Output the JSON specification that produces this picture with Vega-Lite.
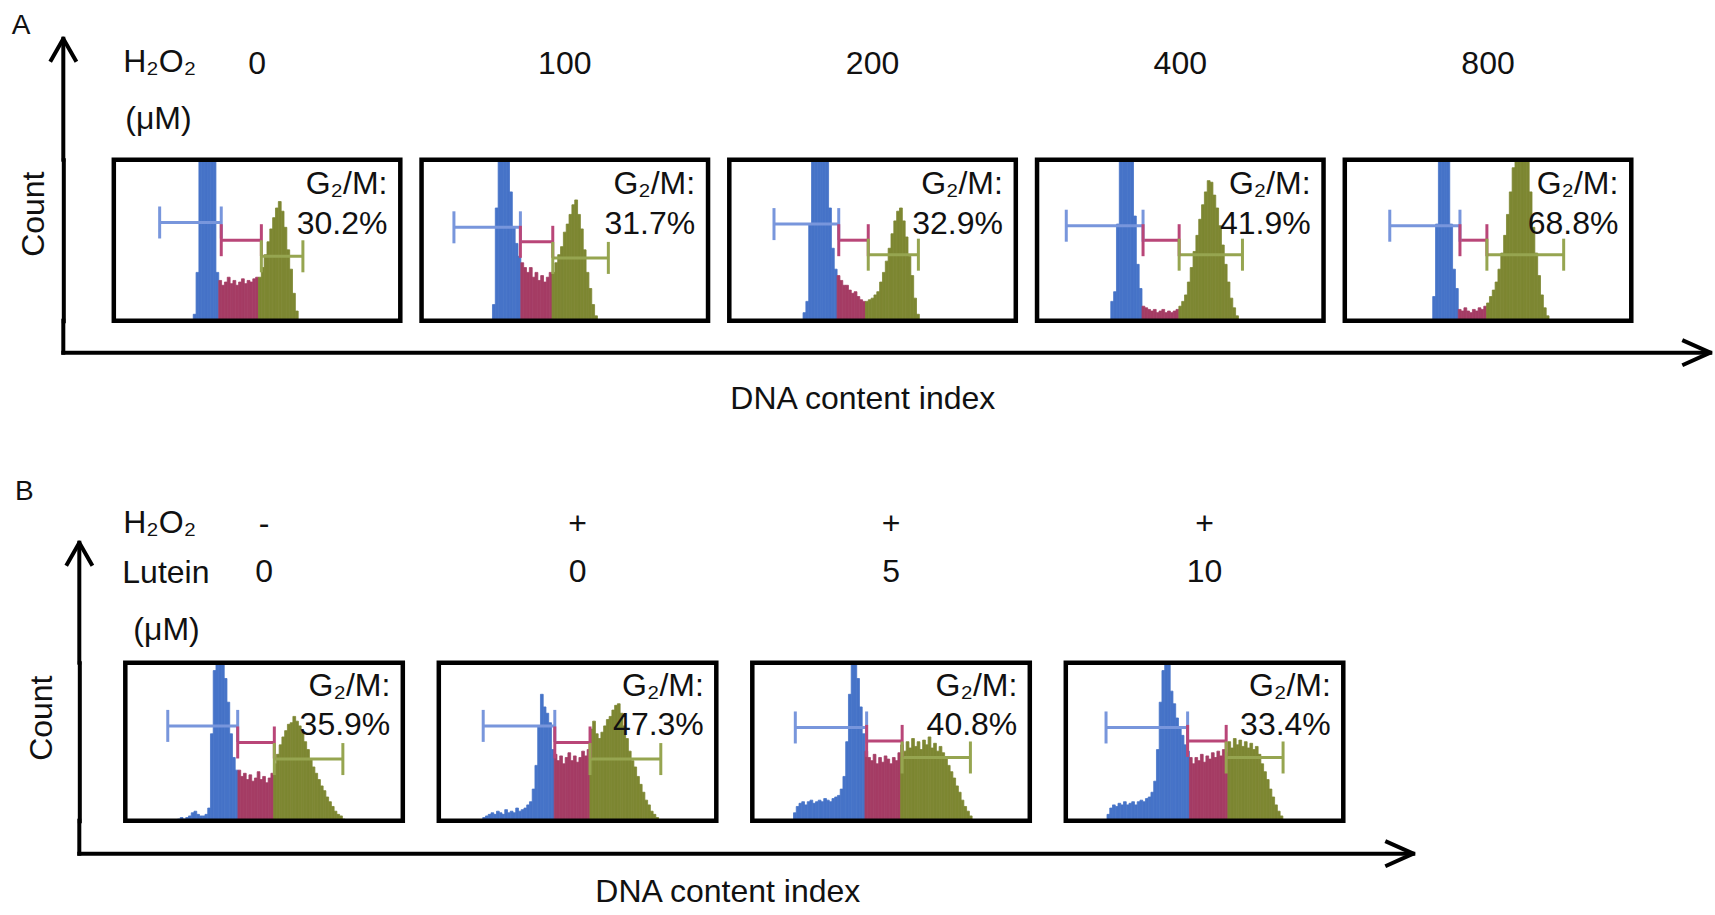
{
  "$schema": "https://vega.github.io/schema/vega-lite/v6.json",
  "padding": {"left": 11.3, "top": 11.7, "right": 0, "bottom": 6},
  "bounds": "flush",
  "spacing": 0,
  "config": {
    "font": "Liberation Sans",
    "view": {"stroke": null},
    "text": {"color": "#111", "fontSize": 32}
  },
  "datasets": {
    "panelA": [
      {"cond":"0","ch":28,"n":4,"phase":"G1"},{"cond":"0","ch":29,"n":30,"phase":"G1"},{"cond":"0","ch":30,"n":115,"phase":"G1"},{"cond":"0","ch":31,"n":115,"phase":"G1"},{"cond":"0","ch":32,"n":115,"phase":"G1"},{"cond":"0","ch":33,"n":115,"phase":"G1"},{"cond":"0","ch":34,"n":115,"phase":"G1"},{"cond":"0","ch":35,"n":115,"phase":"G1"},{"cond":"0","ch":36,"n":30,"phase":"G1"},
      {"cond":"0","ch":37,"n":25,"phase":"S"},{"cond":"0","ch":38,"n":22,"phase":"S"},{"cond":"0","ch":39,"n":24,"phase":"S"},{"cond":"0","ch":40,"n":27,"phase":"S"},{"cond":"0","ch":41,"n":23,"phase":"S"},{"cond":"0","ch":42,"n":25,"phase":"S"},{"cond":"0","ch":43,"n":22,"phase":"S"},{"cond":"0","ch":44,"n":24,"phase":"S"},{"cond":"0","ch":45,"n":26,"phase":"S"},{"cond":"0","ch":46,"n":23,"phase":"S"},{"cond":"0","ch":47,"n":25,"phase":"S"},{"cond":"0","ch":48,"n":24,"phase":"S"},{"cond":"0","ch":49,"n":26,"phase":"S"},{"cond":"0","ch":50,"n":27,"phase":"S"},
      {"cond":"0","ch":51,"n":27,"phase":"G2/M"},{"cond":"0","ch":52,"n":33,"phase":"G2/M"},{"cond":"0","ch":53,"n":41,"phase":"G2/M"},{"cond":"0","ch":54,"n":49,"phase":"G2/M"},{"cond":"0","ch":55,"n":57,"phase":"G2/M"},{"cond":"0","ch":56,"n":64,"phase":"G2/M"},{"cond":"0","ch":57,"n":70,"phase":"G2/M"},{"cond":"0","ch":58,"n":74,"phase":"G2/M"},{"cond":"0","ch":59,"n":68,"phase":"G2/M"},{"cond":"0","ch":60,"n":58,"phase":"G2/M"},{"cond":"0","ch":61,"n":44,"phase":"G2/M"},{"cond":"0","ch":62,"n":32,"phase":"G2/M"},{"cond":"0","ch":63,"n":17,"phase":"G2/M"},{"cond":"0","ch":64,"n":6,"phase":"G2/M"},
      {"cond":"100","ch":25,"n":10,"phase":"G1"},{"cond":"100","ch":26,"n":70,"phase":"G1"},{"cond":"100","ch":27,"n":115,"phase":"G1"},{"cond":"100","ch":28,"n":115,"phase":"G1"},{"cond":"100","ch":29,"n":115,"phase":"G1"},{"cond":"100","ch":30,"n":115,"phase":"G1"},{"cond":"100","ch":31,"n":80,"phase":"G1"},{"cond":"100","ch":32,"n":58,"phase":"G1"},{"cond":"100","ch":33,"n":48,"phase":"G1"},{"cond":"100","ch":34,"n":40,"phase":"G1"},
      {"cond":"100","ch":35,"n":36,"phase":"S"},{"cond":"100","ch":36,"n":33,"phase":"S"},{"cond":"100","ch":37,"n":30,"phase":"S"},{"cond":"100","ch":38,"n":33,"phase":"S"},{"cond":"100","ch":39,"n":27,"phase":"S"},{"cond":"100","ch":40,"n":30,"phase":"S"},{"cond":"100","ch":41,"n":25,"phase":"S"},{"cond":"100","ch":42,"n":28,"phase":"S"},{"cond":"100","ch":43,"n":24,"phase":"S"},{"cond":"100","ch":44,"n":27,"phase":"S"},{"cond":"100","ch":45,"n":30,"phase":"S"},
      {"cond":"100","ch":46,"n":30,"phase":"G2/M"},{"cond":"100","ch":47,"n":36,"phase":"G2/M"},{"cond":"100","ch":48,"n":41,"phase":"G2/M"},{"cond":"100","ch":49,"n":46,"phase":"G2/M"},{"cond":"100","ch":50,"n":55,"phase":"G2/M"},{"cond":"100","ch":51,"n":60,"phase":"G2/M"},{"cond":"100","ch":52,"n":66,"phase":"G2/M"},{"cond":"100","ch":53,"n":72,"phase":"G2/M"},{"cond":"100","ch":54,"n":75,"phase":"G2/M"},{"cond":"100","ch":55,"n":66,"phase":"G2/M"},{"cond":"100","ch":56,"n":57,"phase":"G2/M"},{"cond":"100","ch":57,"n":44,"phase":"G2/M"},{"cond":"100","ch":58,"n":30,"phase":"G2/M"},{"cond":"100","ch":59,"n":20,"phase":"G2/M"},{"cond":"100","ch":60,"n":10,"phase":"G2/M"},{"cond":"100","ch":61,"n":3,"phase":"G2/M"},
      {"cond":"200","ch":26,"n":5,"phase":"G1"},{"cond":"200","ch":27,"n":12,"phase":"G1"},{"cond":"200","ch":28,"n":60,"phase":"G1"},{"cond":"200","ch":29,"n":115,"phase":"G1"},{"cond":"200","ch":30,"n":115,"phase":"G1"},{"cond":"200","ch":31,"n":115,"phase":"G1"},{"cond":"200","ch":32,"n":115,"phase":"G1"},{"cond":"200","ch":33,"n":115,"phase":"G1"},{"cond":"200","ch":34,"n":115,"phase":"G1"},{"cond":"200","ch":35,"n":70,"phase":"G1"},{"cond":"200","ch":36,"n":45,"phase":"G1"},{"cond":"200","ch":37,"n":32,"phase":"G1"},
      {"cond":"200","ch":38,"n":28,"phase":"S"},{"cond":"200","ch":39,"n":25,"phase":"S"},{"cond":"200","ch":40,"n":22,"phase":"S"},{"cond":"200","ch":41,"n":22,"phase":"S"},{"cond":"200","ch":42,"n":19,"phase":"S"},{"cond":"200","ch":43,"n":17,"phase":"S"},{"cond":"200","ch":44,"n":18,"phase":"S"},{"cond":"200","ch":45,"n":15,"phase":"S"},{"cond":"200","ch":46,"n":13,"phase":"S"},{"cond":"200","ch":47,"n":12,"phase":"S"},
      {"cond":"200","ch":48,"n":12,"phase":"G2/M"},{"cond":"200","ch":49,"n":13,"phase":"G2/M"},{"cond":"200","ch":50,"n":14,"phase":"G2/M"},{"cond":"200","ch":51,"n":16,"phase":"G2/M"},{"cond":"200","ch":52,"n":18,"phase":"G2/M"},{"cond":"200","ch":53,"n":24,"phase":"G2/M"},{"cond":"200","ch":54,"n":30,"phase":"G2/M"},{"cond":"200","ch":55,"n":37,"phase":"G2/M"},{"cond":"200","ch":56,"n":45,"phase":"G2/M"},{"cond":"200","ch":57,"n":54,"phase":"G2/M"},{"cond":"200","ch":58,"n":62,"phase":"G2/M"},{"cond":"200","ch":59,"n":68,"phase":"G2/M"},{"cond":"200","ch":60,"n":70,"phase":"G2/M"},{"cond":"200","ch":61,"n":62,"phase":"G2/M"},{"cond":"200","ch":62,"n":52,"phase":"G2/M"},{"cond":"200","ch":63,"n":40,"phase":"G2/M"},{"cond":"200","ch":64,"n":28,"phase":"G2/M"},{"cond":"200","ch":65,"n":14,"phase":"G2/M"},{"cond":"200","ch":66,"n":4,"phase":"G2/M"},
      {"cond":"400","ch":26,"n":12,"phase":"G1"},{"cond":"400","ch":27,"n":18,"phase":"G1"},{"cond":"400","ch":28,"n":60,"phase":"G1"},{"cond":"400","ch":29,"n":115,"phase":"G1"},{"cond":"400","ch":30,"n":115,"phase":"G1"},{"cond":"400","ch":31,"n":115,"phase":"G1"},{"cond":"400","ch":32,"n":115,"phase":"G1"},{"cond":"400","ch":33,"n":115,"phase":"G1"},{"cond":"400","ch":34,"n":65,"phase":"G1"},{"cond":"400","ch":35,"n":35,"phase":"G1"},{"cond":"400","ch":36,"n":20,"phase":"G1"},
      {"cond":"400","ch":37,"n":9,"phase":"S"},{"cond":"400","ch":38,"n":8,"phase":"S"},{"cond":"400","ch":39,"n":7,"phase":"S"},{"cond":"400","ch":40,"n":6,"phase":"S"},{"cond":"400","ch":41,"n":7,"phase":"S"},{"cond":"400","ch":42,"n":5,"phase":"S"},{"cond":"400","ch":43,"n":6,"phase":"S"},{"cond":"400","ch":44,"n":7,"phase":"S"},{"cond":"400","ch":45,"n":5,"phase":"S"},{"cond":"400","ch":46,"n":6,"phase":"S"},{"cond":"400","ch":47,"n":5,"phase":"S"},{"cond":"400","ch":48,"n":6,"phase":"S"},{"cond":"400","ch":49,"n":7,"phase":"S"},
      {"cond":"400","ch":50,"n":9,"phase":"G2/M"},{"cond":"400","ch":51,"n":12,"phase":"G2/M"},{"cond":"400","ch":52,"n":16,"phase":"G2/M"},{"cond":"400","ch":53,"n":24,"phase":"G2/M"},{"cond":"400","ch":54,"n":33,"phase":"G2/M"},{"cond":"400","ch":55,"n":43,"phase":"G2/M"},{"cond":"400","ch":56,"n":53,"phase":"G2/M"},{"cond":"400","ch":57,"n":63,"phase":"G2/M"},{"cond":"400","ch":58,"n":72,"phase":"G2/M"},{"cond":"400","ch":59,"n":80,"phase":"G2/M"},{"cond":"400","ch":60,"n":87,"phase":"G2/M"},{"cond":"400","ch":61,"n":86,"phase":"G2/M"},{"cond":"400","ch":62,"n":78,"phase":"G2/M"},{"cond":"400","ch":63,"n":70,"phase":"G2/M"},{"cond":"400","ch":64,"n":59,"phase":"G2/M"},{"cond":"400","ch":65,"n":47,"phase":"G2/M"},{"cond":"400","ch":66,"n":35,"phase":"G2/M"},{"cond":"400","ch":67,"n":24,"phase":"G2/M"},{"cond":"400","ch":68,"n":14,"phase":"G2/M"},{"cond":"400","ch":69,"n":8,"phase":"G2/M"},{"cond":"400","ch":70,"n":3,"phase":"G2/M"},
      {"cond":"800","ch":31,"n":15,"phase":"G1"},{"cond":"800","ch":32,"n":60,"phase":"G1"},{"cond":"800","ch":33,"n":115,"phase":"G1"},{"cond":"800","ch":34,"n":115,"phase":"G1"},{"cond":"800","ch":35,"n":115,"phase":"G1"},{"cond":"800","ch":36,"n":115,"phase":"G1"},{"cond":"800","ch":37,"n":60,"phase":"G1"},{"cond":"800","ch":38,"n":32,"phase":"G1"},{"cond":"800","ch":39,"n":20,"phase":"G1"},
      {"cond":"800","ch":40,"n":7,"phase":"S"},{"cond":"800","ch":41,"n":6,"phase":"S"},{"cond":"800","ch":42,"n":8,"phase":"S"},{"cond":"800","ch":43,"n":6,"phase":"S"},{"cond":"800","ch":44,"n":5,"phase":"S"},{"cond":"800","ch":45,"n":7,"phase":"S"},{"cond":"800","ch":46,"n":6,"phase":"S"},{"cond":"800","ch":47,"n":8,"phase":"S"},{"cond":"800","ch":48,"n":7,"phase":"S"},{"cond":"800","ch":49,"n":9,"phase":"S"},
      {"cond":"800","ch":50,"n":11,"phase":"G2/M"},{"cond":"800","ch":51,"n":15,"phase":"G2/M"},{"cond":"800","ch":52,"n":19,"phase":"G2/M"},{"cond":"800","ch":53,"n":24,"phase":"G2/M"},{"cond":"800","ch":54,"n":32,"phase":"G2/M"},{"cond":"800","ch":55,"n":42,"phase":"G2/M"},{"cond":"800","ch":56,"n":53,"phase":"G2/M"},{"cond":"800","ch":57,"n":66,"phase":"G2/M"},{"cond":"800","ch":58,"n":80,"phase":"G2/M"},{"cond":"800","ch":59,"n":95,"phase":"G2/M"},{"cond":"800","ch":60,"n":110,"phase":"G2/M"},{"cond":"800","ch":61,"n":115,"phase":"G2/M"},{"cond":"800","ch":62,"n":115,"phase":"G2/M"},{"cond":"800","ch":63,"n":110,"phase":"G2/M"},{"cond":"800","ch":64,"n":100,"phase":"G2/M"},{"cond":"800","ch":65,"n":80,"phase":"G2/M"},{"cond":"800","ch":66,"n":58,"phase":"G2/M"},{"cond":"800","ch":67,"n":42,"phase":"G2/M"},{"cond":"800","ch":68,"n":28,"phase":"G2/M"},{"cond":"800","ch":69,"n":16,"phase":"G2/M"},{"cond":"800","ch":70,"n":8,"phase":"G2/M"},{"cond":"800","ch":71,"n":3,"phase":"G2/M"},
      {"cond":"0","phase":"G1","ch":16,"level":61},{"cond":"0","phase":"G1","ch":37.5,"level":61},{"cond":"0","phase":"S","ch":37.5,"level":50},{"cond":"0","phase":"S","ch":51.5,"level":50},{"cond":"0","phase":"G2/M","ch":51.5,"level":40},{"cond":"0","phase":"G2/M","ch":66,"level":40},
      {"cond":"100","phase":"G1","ch":11.3,"level":58},{"cond":"100","phase":"G1","ch":34.5,"level":58},{"cond":"100","phase":"S","ch":34.5,"level":49},{"cond":"100","phase":"S","ch":45.8,"level":49},{"cond":"100","phase":"G2/M","ch":45.8,"level":39},{"cond":"100","phase":"G2/M","ch":65.2,"level":39},
      {"cond":"200","phase":"G1","ch":15.6,"level":60},{"cond":"200","phase":"G1","ch":38.2,"level":60},{"cond":"200","phase":"S","ch":38.2,"level":50},{"cond":"200","phase":"S","ch":48.5,"level":50},{"cond":"200","phase":"G2/M","ch":48.5,"level":41},{"cond":"200","phase":"G2/M","ch":66,"level":41},
      {"cond":"400","phase":"G1","ch":10.2,"level":59},{"cond":"400","phase":"G1","ch":37,"level":59},{"cond":"400","phase":"S","ch":37,"level":50},{"cond":"400","phase":"S","ch":49.6,"level":50},{"cond":"400","phase":"G2/M","ch":49.6,"level":41},{"cond":"400","phase":"G2/M","ch":71.7,"level":41},
      {"cond":"800","phase":"G1","ch":15.7,"level":59},{"cond":"800","phase":"G1","ch":40.2,"level":59},{"cond":"800","phase":"S","ch":40.2,"level":50},{"cond":"800","phase":"S","ch":49.6,"level":50},{"cond":"800","phase":"G2/M","ch":49.6,"level":41},{"cond":"800","phase":"G2/M","ch":76.4,"level":41},
      {"cond":"0","g2m":"30.2%"},{"cond":"100","g2m":"31.7%"},{"cond":"200","g2m":"32.9%"},{"cond":"400","g2m":"41.9%"},{"cond":"800","g2m":"68.8%"}
    ],
    "panelB": [
      {"cond":"-|0","ch":19,"n":1,"phase":"G1"},{"cond":"-|0","ch":20,"n":2,"phase":"G1"},{"cond":"-|0","ch":21,"n":1,"phase":"G1"},{"cond":"-|0","ch":22,"n":2,"phase":"G1"},{"cond":"-|0","ch":23,"n":3,"phase":"G1"},{"cond":"-|0","ch":24,"n":5,"phase":"G1"},{"cond":"-|0","ch":25,"n":6,"phase":"G1"},{"cond":"-|0","ch":26,"n":4,"phase":"G1"},{"cond":"-|0","ch":27,"n":3,"phase":"G1"},{"cond":"-|0","ch":28,"n":3,"phase":"G1"},{"cond":"-|0","ch":29,"n":4,"phase":"G1"},{"cond":"-|0","ch":30,"n":8,"phase":"G1"},{"cond":"-|0","ch":31,"n":55,"phase":"G1"},{"cond":"-|0","ch":32,"n":95,"phase":"G1"},{"cond":"-|0","ch":33,"n":115,"phase":"G1"},{"cond":"-|0","ch":34,"n":115,"phase":"G1"},{"cond":"-|0","ch":35,"n":100,"phase":"G1"},{"cond":"-|0","ch":36,"n":90,"phase":"G1"},{"cond":"-|0","ch":37,"n":75,"phase":"G1"},{"cond":"-|0","ch":38,"n":55,"phase":"G1"},{"cond":"-|0","ch":39,"n":40,"phase":"G1"},{"cond":"-|0","ch":40,"n":32,"phase":"G1"},
      {"cond":"-|0","ch":41,"n":32,"phase":"S"},{"cond":"-|0","ch":42,"n":28,"phase":"S"},{"cond":"-|0","ch":43,"n":30,"phase":"S"},{"cond":"-|0","ch":44,"n":26,"phase":"S"},{"cond":"-|0","ch":45,"n":29,"phase":"S"},{"cond":"-|0","ch":46,"n":25,"phase":"S"},{"cond":"-|0","ch":47,"n":27,"phase":"S"},{"cond":"-|0","ch":48,"n":31,"phase":"S"},{"cond":"-|0","ch":49,"n":26,"phase":"S"},{"cond":"-|0","ch":50,"n":28,"phase":"S"},{"cond":"-|0","ch":51,"n":24,"phase":"S"},{"cond":"-|0","ch":52,"n":27,"phase":"S"},{"cond":"-|0","ch":53,"n":30,"phase":"S"},
      {"cond":"-|0","ch":54,"n":36,"phase":"G2/M"},{"cond":"-|0","ch":55,"n":42,"phase":"G2/M"},{"cond":"-|0","ch":56,"n":48,"phase":"G2/M"},{"cond":"-|0","ch":57,"n":53,"phase":"G2/M"},{"cond":"-|0","ch":58,"n":57,"phase":"G2/M"},{"cond":"-|0","ch":59,"n":61,"phase":"G2/M"},{"cond":"-|0","ch":60,"n":62,"phase":"G2/M"},{"cond":"-|0","ch":61,"n":66,"phase":"G2/M"},{"cond":"-|0","ch":62,"n":63,"phase":"G2/M"},{"cond":"-|0","ch":63,"n":60,"phase":"G2/M"},{"cond":"-|0","ch":64,"n":56,"phase":"G2/M"},{"cond":"-|0","ch":65,"n":50,"phase":"G2/M"},{"cond":"-|0","ch":66,"n":45,"phase":"G2/M"},{"cond":"-|0","ch":67,"n":39,"phase":"G2/M"},{"cond":"-|0","ch":68,"n":34,"phase":"G2/M"},{"cond":"-|0","ch":69,"n":30,"phase":"G2/M"},{"cond":"-|0","ch":70,"n":26,"phase":"G2/M"},{"cond":"-|0","ch":71,"n":22,"phase":"G2/M"},{"cond":"-|0","ch":72,"n":19,"phase":"G2/M"},{"cond":"-|0","ch":73,"n":15,"phase":"G2/M"},{"cond":"-|0","ch":74,"n":12,"phase":"G2/M"},{"cond":"-|0","ch":75,"n":9,"phase":"G2/M"},{"cond":"-|0","ch":76,"n":6,"phase":"G2/M"},{"cond":"-|0","ch":77,"n":4,"phase":"G2/M"},{"cond":"-|0","ch":78,"n":3,"phase":"G2/M"},{"cond":"-|0","ch":79,"n":1,"phase":"G2/M"},
      {"cond":"+|0","ch":16,"n":2,"phase":"G1"},{"cond":"+|0","ch":17,"n":3,"phase":"G1"},{"cond":"+|0","ch":18,"n":4,"phase":"G1"},{"cond":"+|0","ch":19,"n":5,"phase":"G1"},{"cond":"+|0","ch":20,"n":4,"phase":"G1"},{"cond":"+|0","ch":21,"n":6,"phase":"G1"},{"cond":"+|0","ch":22,"n":5,"phase":"G1"},{"cond":"+|0","ch":23,"n":4,"phase":"G1"},{"cond":"+|0","ch":24,"n":7,"phase":"G1"},{"cond":"+|0","ch":25,"n":5,"phase":"G1"},{"cond":"+|0","ch":26,"n":6,"phase":"G1"},{"cond":"+|0","ch":27,"n":5,"phase":"G1"},{"cond":"+|0","ch":28,"n":8,"phase":"G1"},{"cond":"+|0","ch":29,"n":6,"phase":"G1"},{"cond":"+|0","ch":30,"n":7,"phase":"G1"},{"cond":"+|0","ch":31,"n":8,"phase":"G1"},{"cond":"+|0","ch":32,"n":10,"phase":"G1"},{"cond":"+|0","ch":33,"n":12,"phase":"G1"},{"cond":"+|0","ch":34,"n":20,"phase":"G1"},{"cond":"+|0","ch":35,"n":35,"phase":"G1"},{"cond":"+|0","ch":36,"n":60,"phase":"G1"},{"cond":"+|0","ch":37,"n":80,"phase":"G1"},{"cond":"+|0","ch":38,"n":72,"phase":"G1"},{"cond":"+|0","ch":39,"n":68,"phase":"G1"},{"cond":"+|0","ch":40,"n":62,"phase":"G1"},{"cond":"+|0","ch":41,"n":45,"phase":"G1"},
      {"cond":"+|0","ch":42,"n":42,"phase":"S"},{"cond":"+|0","ch":43,"n":38,"phase":"S"},{"cond":"+|0","ch":44,"n":41,"phase":"S"},{"cond":"+|0","ch":45,"n":36,"phase":"S"},{"cond":"+|0","ch":46,"n":40,"phase":"S"},{"cond":"+|0","ch":47,"n":43,"phase":"S"},{"cond":"+|0","ch":48,"n":38,"phase":"S"},{"cond":"+|0","ch":49,"n":41,"phase":"S"},{"cond":"+|0","ch":50,"n":37,"phase":"S"},{"cond":"+|0","ch":51,"n":40,"phase":"S"},{"cond":"+|0","ch":52,"n":44,"phase":"S"},{"cond":"+|0","ch":53,"n":41,"phase":"S"},{"cond":"+|0","ch":54,"n":45,"phase":"S"},
      {"cond":"+|0","ch":55,"n":58,"phase":"G2/M"},{"cond":"+|0","ch":56,"n":63,"phase":"G2/M"},{"cond":"+|0","ch":57,"n":55,"phase":"G2/M"},{"cond":"+|0","ch":58,"n":52,"phase":"G2/M"},{"cond":"+|0","ch":59,"n":56,"phase":"G2/M"},{"cond":"+|0","ch":60,"n":60,"phase":"G2/M"},{"cond":"+|0","ch":61,"n":64,"phase":"G2/M"},{"cond":"+|0","ch":62,"n":66,"phase":"G2/M"},{"cond":"+|0","ch":63,"n":70,"phase":"G2/M"},{"cond":"+|0","ch":64,"n":73,"phase":"G2/M"},{"cond":"+|0","ch":65,"n":74,"phase":"G2/M"},{"cond":"+|0","ch":66,"n":68,"phase":"G2/M"},{"cond":"+|0","ch":67,"n":60,"phase":"G2/M"},{"cond":"+|0","ch":68,"n":52,"phase":"G2/M"},{"cond":"+|0","ch":69,"n":44,"phase":"G2/M"},{"cond":"+|0","ch":70,"n":38,"phase":"G2/M"},{"cond":"+|0","ch":71,"n":34,"phase":"G2/M"},{"cond":"+|0","ch":72,"n":28,"phase":"G2/M"},{"cond":"+|0","ch":73,"n":23,"phase":"G2/M"},{"cond":"+|0","ch":74,"n":18,"phase":"G2/M"},{"cond":"+|0","ch":75,"n":13,"phase":"G2/M"},{"cond":"+|0","ch":76,"n":10,"phase":"G2/M"},{"cond":"+|0","ch":77,"n":6,"phase":"G2/M"},{"cond":"+|0","ch":78,"n":4,"phase":"G2/M"},{"cond":"+|0","ch":79,"n":2,"phase":"G2/M"},
      {"cond":"+|5","ch":15,"n":5,"phase":"G1"},{"cond":"+|5","ch":16,"n":9,"phase":"G1"},{"cond":"+|5","ch":17,"n":11,"phase":"G1"},{"cond":"+|5","ch":18,"n":12,"phase":"G1"},{"cond":"+|5","ch":19,"n":10,"phase":"G1"},{"cond":"+|5","ch":20,"n":12,"phase":"G1"},{"cond":"+|5","ch":21,"n":13,"phase":"G1"},{"cond":"+|5","ch":22,"n":11,"phase":"G1"},{"cond":"+|5","ch":23,"n":12,"phase":"G1"},{"cond":"+|5","ch":24,"n":13,"phase":"G1"},{"cond":"+|5","ch":25,"n":12,"phase":"G1"},{"cond":"+|5","ch":26,"n":14,"phase":"G1"},{"cond":"+|5","ch":27,"n":13,"phase":"G1"},{"cond":"+|5","ch":28,"n":12,"phase":"G1"},{"cond":"+|5","ch":29,"n":14,"phase":"G1"},{"cond":"+|5","ch":30,"n":15,"phase":"G1"},{"cond":"+|5","ch":31,"n":16,"phase":"G1"},{"cond":"+|5","ch":32,"n":20,"phase":"G1"},{"cond":"+|5","ch":33,"n":28,"phase":"G1"},{"cond":"+|5","ch":34,"n":50,"phase":"G1"},{"cond":"+|5","ch":35,"n":80,"phase":"G1"},{"cond":"+|5","ch":36,"n":100,"phase":"G1"},{"cond":"+|5","ch":37,"n":115,"phase":"G1"},{"cond":"+|5","ch":38,"n":90,"phase":"G1"},{"cond":"+|5","ch":39,"n":72,"phase":"G1"},{"cond":"+|5","ch":40,"n":55,"phase":"G1"},
      {"cond":"+|5","ch":41,"n":44,"phase":"S"},{"cond":"+|5","ch":42,"n":40,"phase":"S"},{"cond":"+|5","ch":43,"n":38,"phase":"S"},{"cond":"+|5","ch":44,"n":42,"phase":"S"},{"cond":"+|5","ch":45,"n":36,"phase":"S"},{"cond":"+|5","ch":46,"n":40,"phase":"S"},{"cond":"+|5","ch":47,"n":37,"phase":"S"},{"cond":"+|5","ch":48,"n":41,"phase":"S"},{"cond":"+|5","ch":49,"n":39,"phase":"S"},{"cond":"+|5","ch":50,"n":36,"phase":"S"},{"cond":"+|5","ch":51,"n":40,"phase":"S"},{"cond":"+|5","ch":52,"n":38,"phase":"S"},{"cond":"+|5","ch":53,"n":43,"phase":"S"},
      {"cond":"+|5","ch":54,"n":48,"phase":"G2/M"},{"cond":"+|5","ch":55,"n":44,"phase":"G2/M"},{"cond":"+|5","ch":56,"n":50,"phase":"G2/M"},{"cond":"+|5","ch":57,"n":46,"phase":"G2/M"},{"cond":"+|5","ch":58,"n":52,"phase":"G2/M"},{"cond":"+|5","ch":59,"n":47,"phase":"G2/M"},{"cond":"+|5","ch":60,"n":50,"phase":"G2/M"},{"cond":"+|5","ch":61,"n":45,"phase":"G2/M"},{"cond":"+|5","ch":62,"n":51,"phase":"G2/M"},{"cond":"+|5","ch":63,"n":48,"phase":"G2/M"},{"cond":"+|5","ch":64,"n":53,"phase":"G2/M"},{"cond":"+|5","ch":65,"n":46,"phase":"G2/M"},{"cond":"+|5","ch":66,"n":49,"phase":"G2/M"},{"cond":"+|5","ch":67,"n":44,"phase":"G2/M"},{"cond":"+|5","ch":68,"n":47,"phase":"G2/M"},{"cond":"+|5","ch":69,"n":43,"phase":"G2/M"},{"cond":"+|5","ch":70,"n":40,"phase":"G2/M"},{"cond":"+|5","ch":71,"n":35,"phase":"G2/M"},{"cond":"+|5","ch":72,"n":31,"phase":"G2/M"},{"cond":"+|5","ch":73,"n":27,"phase":"G2/M"},{"cond":"+|5","ch":74,"n":22,"phase":"G2/M"},{"cond":"+|5","ch":75,"n":18,"phase":"G2/M"},{"cond":"+|5","ch":76,"n":13,"phase":"G2/M"},{"cond":"+|5","ch":77,"n":9,"phase":"G2/M"},{"cond":"+|5","ch":78,"n":6,"phase":"G2/M"},{"cond":"+|5","ch":79,"n":3,"phase":"G2/M"},
      {"cond":"+|10","ch":15,"n":4,"phase":"G1"},{"cond":"+|10","ch":16,"n":8,"phase":"G1"},{"cond":"+|10","ch":17,"n":10,"phase":"G1"},{"cond":"+|10","ch":18,"n":9,"phase":"G1"},{"cond":"+|10","ch":19,"n":11,"phase":"G1"},{"cond":"+|10","ch":20,"n":10,"phase":"G1"},{"cond":"+|10","ch":21,"n":12,"phase":"G1"},{"cond":"+|10","ch":22,"n":10,"phase":"G1"},{"cond":"+|10","ch":23,"n":11,"phase":"G1"},{"cond":"+|10","ch":24,"n":12,"phase":"G1"},{"cond":"+|10","ch":25,"n":10,"phase":"G1"},{"cond":"+|10","ch":26,"n":12,"phase":"G1"},{"cond":"+|10","ch":27,"n":13,"phase":"G1"},{"cond":"+|10","ch":28,"n":12,"phase":"G1"},{"cond":"+|10","ch":29,"n":14,"phase":"G1"},{"cond":"+|10","ch":30,"n":15,"phase":"G1"},{"cond":"+|10","ch":31,"n":18,"phase":"G1"},{"cond":"+|10","ch":32,"n":25,"phase":"G1"},{"cond":"+|10","ch":33,"n":45,"phase":"G1"},{"cond":"+|10","ch":34,"n":75,"phase":"G1"},{"cond":"+|10","ch":35,"n":95,"phase":"G1"},{"cond":"+|10","ch":36,"n":115,"phase":"G1"},{"cond":"+|10","ch":37,"n":100,"phase":"G1"},{"cond":"+|10","ch":38,"n":82,"phase":"G1"},{"cond":"+|10","ch":39,"n":74,"phase":"G1"},{"cond":"+|10","ch":40,"n":65,"phase":"G1"},{"cond":"+|10","ch":41,"n":58,"phase":"G1"},{"cond":"+|10","ch":42,"n":54,"phase":"G1"},{"cond":"+|10","ch":43,"n":48,"phase":"G1"},{"cond":"+|10","ch":44,"n":44,"phase":"G1"},
      {"cond":"+|10","ch":45,"n":40,"phase":"S"},{"cond":"+|10","ch":46,"n":36,"phase":"S"},{"cond":"+|10","ch":47,"n":40,"phase":"S"},{"cond":"+|10","ch":48,"n":38,"phase":"S"},{"cond":"+|10","ch":49,"n":42,"phase":"S"},{"cond":"+|10","ch":50,"n":37,"phase":"S"},{"cond":"+|10","ch":51,"n":41,"phase":"S"},{"cond":"+|10","ch":52,"n":39,"phase":"S"},{"cond":"+|10","ch":53,"n":43,"phase":"S"},{"cond":"+|10","ch":54,"n":40,"phase":"S"},{"cond":"+|10","ch":55,"n":44,"phase":"S"},{"cond":"+|10","ch":56,"n":41,"phase":"S"},{"cond":"+|10","ch":57,"n":45,"phase":"S"},{"cond":"+|10","ch":58,"n":43,"phase":"S"},
      {"cond":"+|10","ch":59,"n":50,"phase":"G2/M"},{"cond":"+|10","ch":60,"n":46,"phase":"G2/M"},{"cond":"+|10","ch":61,"n":52,"phase":"G2/M"},{"cond":"+|10","ch":62,"n":48,"phase":"G2/M"},{"cond":"+|10","ch":63,"n":51,"phase":"G2/M"},{"cond":"+|10","ch":64,"n":47,"phase":"G2/M"},{"cond":"+|10","ch":65,"n":50,"phase":"G2/M"},{"cond":"+|10","ch":66,"n":46,"phase":"G2/M"},{"cond":"+|10","ch":67,"n":49,"phase":"G2/M"},{"cond":"+|10","ch":68,"n":45,"phase":"G2/M"},{"cond":"+|10","ch":69,"n":47,"phase":"G2/M"},{"cond":"+|10","ch":70,"n":42,"phase":"G2/M"},{"cond":"+|10","ch":71,"n":36,"phase":"G2/M"},{"cond":"+|10","ch":72,"n":31,"phase":"G2/M"},{"cond":"+|10","ch":73,"n":26,"phase":"G2/M"},{"cond":"+|10","ch":74,"n":20,"phase":"G2/M"},{"cond":"+|10","ch":75,"n":15,"phase":"G2/M"},{"cond":"+|10","ch":76,"n":10,"phase":"G2/M"},{"cond":"+|10","ch":77,"n":6,"phase":"G2/M"},{"cond":"+|10","ch":78,"n":3,"phase":"G2/M"},
      {"cond":"-|0","phase":"G1","ch":15.3,"level":60},{"cond":"-|0","phase":"G1","ch":40.5,"level":60},{"cond":"-|0","phase":"S","ch":40.5,"level":49.5},{"cond":"-|0","phase":"S","ch":53.7,"level":49.5},{"cond":"-|0","phase":"G2/M","ch":53.7,"level":39},{"cond":"-|0","phase":"G2/M","ch":78.4,"level":39},
      {"cond":"+|0","phase":"G1","ch":16,"level":60},{"cond":"+|0","phase":"G1","ch":41.8,"level":60},{"cond":"+|0","phase":"S","ch":41.8,"level":49.5},{"cond":"+|0","phase":"S","ch":54.5,"level":49.5},{"cond":"+|0","phase":"G2/M","ch":54.5,"level":39},{"cond":"+|0","phase":"G2/M","ch":80,"level":39},
      {"cond":"+|5","phase":"G1","ch":15.5,"level":59},{"cond":"+|5","phase":"G1","ch":41.2,"level":59},{"cond":"+|5","phase":"S","ch":41.2,"level":50.5},{"cond":"+|5","phase":"S","ch":54,"level":50.5},{"cond":"+|5","phase":"G2/M","ch":54,"level":40},{"cond":"+|5","phase":"G2/M","ch":78.6,"level":40},
      {"cond":"+|10","phase":"G1","ch":14.5,"level":59},{"cond":"+|10","phase":"G1","ch":43.9,"level":59},{"cond":"+|10","phase":"S","ch":43.9,"level":50.5},{"cond":"+|10","phase":"S","ch":57.8,"level":50.5},{"cond":"+|10","phase":"G2/M","ch":57.8,"level":40},{"cond":"+|10","phase":"G2/M","ch":78.3,"level":40},
      {"cond":"-|0","g2m":"35.9%","h2o2":"-","lutein":"0"},{"cond":"+|0","g2m":"47.3%","h2o2":"+","lutein":"0"},{"cond":"+|5","g2m":"40.8%","h2o2":"+","lutein":"5"},{"cond":"+|10","g2m":"33.4%","h2o2":"+","lutein":"10"}
    ]
  },
  "vconcat": [
    {
      "width": 1647, "height": 121,
      "data": {"values": [{}]},
      "layer": [
        {"mark": {"type": "rule", "color": "#000", "strokeWidth": 4, "strokeCap": "square"},
         "encoding": {"x": {"datum": 0, "type": "quantitative", "scale": {"domain": [0, 1]}, "axis": null}, "y": {"datum": 0, "type": "quantitative", "scale": {"domain": [0, 1]}, "axis": null}, "y2": {"datum": 1}}},
        {"mark": {"type": "point", "shape": "M-0.57,1L0,0L0.57,1", "size": 2116, "filled": false, "stroke": "#000", "strokeWidth": 4, "opacity": 1, "strokeJoin": "round"},
         "encoding": {"x": {"datum": 0, "type": "quantitative", "axis": null}, "y": {"datum": 1, "type": "quantitative", "axis": null}}},
        {"mark": {"type": "text", "text": "A", "align": "center", "baseline": "alphabetic", "fontSize": 28},
         "encoding": {"x": {"datum": -0.0256, "type": "quantitative", "axis": null}, "y": {"datum": 1.035, "type": "quantitative", "axis": null}}},
        {"mark": {"type": "text", "text": "H₂O₂", "align": "left", "baseline": "alphabetic", "fontSize": 32},
         "encoding": {"x": {"datum": 0.0364, "type": "quantitative", "axis": null}, "y": {"datum": 0.723, "type": "quantitative", "axis": null}}},
        {"mark": {"type": "text", "text": "(μM)", "align": "left", "baseline": "alphabetic", "fontSize": 32},
         "encoding": {"x": {"datum": 0.0376, "type": "quantitative", "axis": null}, "y": {"datum": 0.252, "type": "quantitative", "axis": null}}}
      ]
    },
    {
      "width": 1618.5, "height": 161,
      "data": {"name": "panelA"},
      "resolve": {"scale": {"xOffset": "independent", "stroke": "independent"}},
      "layer": [
        {
          "transform": [{"filter": "isValid(datum.n)"}],
          "mark": {"type": "bar", "clip": true, "opacity": 1, "strokeWidth": 0.8},
          "encoding": {
            "x": {"field": "cond", "type": "nominal", "scale": {"domain": ["0", "100", "200", "400", "800"], "paddingInner": 0.06905, "paddingOuter": 0.1641}, "axis": null},
            "xOffset": {"field": "ch", "type": "ordinal", "scale": {"domain": [0,1,2,3,4,5,6,7,8,9,10,11,12,13,14,15,16,17,18,19,20,21,22,23,24,25,26,27,28,29,30,31,32,33,34,35,36,37,38,39,40,41,42,43,44,45,46,47,48,49,50,51,52,53,54,55,56,57,58,59,60,61,62,63,64,65,66,67,68,69,70,71,72,73,74,75,76,77,78,79,80,81,82,83,84,85,86,87,88,89,90,91,92,93,94,95,96,97,98,99,100], "paddingInner": 0, "paddingOuter": 0}},
            "y": {"field": "n", "type": "quantitative", "scale": {"domain": [0, 100]}, "stack": null,
              "axis": {"title": "Count", "domain": true, "domainColor": "#000", "domainWidth": 4, "domainCap": "square", "ticks": false, "labels": false, "grid": false, "titleFontSize": 32, "titleFontWeight": "normal", "titleColor": "#111", "titleX": -19.5, "titleY": 54, "titleBaseline": "alphabetic", "titleAlign": "center"}},
            "color": {"field": "phase", "type": "nominal", "scale": {"domain": ["G1", "S", "G2/M"], "range": ["#4673c8", "#a53c64", "#7d8732"]}, "legend": null},
            "stroke": {"field": "phase", "type": "nominal", "scale": {"domain": ["G1", "S", "G2/M"], "range": ["#4673c8", "#a53c64", "#7d8732"]}, "legend": null}
          }
        },
        {
          "transform": [{"filter": "isValid(datum.level)"}],
          "mark": {"type": "line", "strokeWidth": 3},
          "encoding": {
            "x": {"field": "cond", "type": "nominal"},
            "xOffset": {"field": "ch", "type": "quantitative", "scale": {"domain": [0, 100], "nice": false, "zero": false}},
            "y": {"field": "level", "type": "quantitative"},
            "detail": {"field": "cond"},
            "stroke": {"field": "phase", "type": "nominal", "scale": {"domain": ["G1", "S", "G2/M"], "range": ["#7896dc", "#b94678", "#96a550"]}, "legend": null}
          }
        },
        {
          "transform": [{"filter": "isValid(datum.level)"}],
          "mark": {"type": "tick", "orient": "vertical", "size": 32, "thickness": 3, "opacity": 1},
          "encoding": {
            "x": {"field": "cond", "type": "nominal"},
            "xOffset": {"field": "ch", "type": "quantitative", "scale": {"domain": [0, 100], "nice": false, "zero": false}},
            "y": {"field": "level", "type": "quantitative"},
            "fill": {"field": "phase", "type": "nominal", "scale": {"domain": ["G1", "S", "G2/M"], "range": ["#7896dc", "#b94678", "#96a550"]}, "legend": null}
          }
        },
        {
          "transform": [{"filter": "isValid(datum.g2m)"}],
          "mark": {"type": "bar", "filled": false, "stroke": "#000", "strokeWidth": 4.5, "opacity": 1},
          "encoding": {"x": {"field": "cond", "type": "nominal"}, "y": {"datum": 0, "type": "quantitative"}, "y2": {"datum": 100}}
        },
        {
          "transform": [{"filter": "isValid(datum.g2m)"}],
          "mark": {"type": "text", "text": "G₂/M:", "align": "right", "baseline": "alphabetic", "fontSize": 32},
          "encoding": {"x": {"field": "cond", "type": "nominal", "bandPosition": 0.955}, "y": {"datum": 79, "type": "quantitative"}}
        },
        {
          "transform": [{"filter": "isValid(datum.g2m)"}],
          "mark": {"type": "text", "align": "right", "baseline": "alphabetic", "fontSize": 32},
          "encoding": {"x": {"field": "cond", "type": "nominal", "bandPosition": 0.955}, "y": {"datum": 54, "type": "quantitative"}, "text": {"field": "g2m"}}
        },
        {
          "transform": [{"filter": "isValid(datum.g2m)"}],
          "mark": {"type": "text", "align": "center", "baseline": "alphabetic", "fontSize": 32},
          "encoding": {"x": {"field": "cond", "type": "nominal"}, "y": {"datum": 153.4, "type": "quantitative"}, "text": {"field": "cond"}}
        }
      ]
    },
    {
      "width": 1647, "height": 32,
      "data": {"values": [{}]},
      "layer": [
        {"mark": {"type": "rule", "color": "#000", "strokeWidth": 4, "strokeCap": "square"},
         "encoding": {
           "x": {"datum": 0, "type": "quantitative", "scale": {"domain": [0, 1]},
             "axis": {"title": "DNA content index", "domain": false, "ticks": false, "labels": false, "grid": false, "titleFontSize": 32, "titleFontWeight": "normal", "titleColor": "#111", "titleX": 799, "titleY": 56, "titleBaseline": "alphabetic", "titleAlign": "center"}},
           "y": {"datum": 0, "type": "quantitative", "scale": {"domain": [0, 1]}, "axis": null},
           "y2": {"datum": 1}}},
        {"mark": {"type": "rule", "color": "#000", "strokeWidth": 4, "strokeCap": "square"},
         "encoding": {"x": {"datum": 0, "type": "quantitative"}, "x2": {"datum": 1}, "y": {"datum": 0, "type": "quantitative", "axis": null}}},
        {"mark": {"type": "point", "shape": "M-1,-0.45L0,0L-1,0.45", "size": 3136, "filled": false, "stroke": "#000", "strokeWidth": 4, "opacity": 1, "strokeJoin": "round"},
         "encoding": {"x": {"datum": 1, "type": "quantitative"}, "y": {"datum": 0, "type": "quantitative", "axis": null}}}
      ]
    },
    {"width": 1, "height": 190, "data": {"values": []}, "mark": "point"},
    {
      "width": 1350, "height": 120,
      "data": {"values": [{}]},
      "layer": [
        {"mark": {"type": "rule", "color": "#000", "strokeWidth": 4, "strokeCap": "square"},
         "encoding": {"x": {"datum": 0.011852, "type": "quantitative", "scale": {"domain": [0, 1]}, "axis": null}, "y": {"datum": 0, "type": "quantitative", "scale": {"domain": [0, 1]}, "axis": null}, "y2": {"datum": 1}}},
        {"mark": {"type": "point", "shape": "M-0.57,1L0,0L0.57,1", "size": 2116, "filled": false, "stroke": "#000", "strokeWidth": 4, "opacity": 1, "strokeJoin": "round"},
         "encoding": {"x": {"datum": 0.011852, "type": "quantitative", "axis": null}, "y": {"datum": 1, "type": "quantitative", "axis": null}}},
        {"mark": {"type": "text", "text": "B", "align": "center", "baseline": "alphabetic", "fontSize": 28},
         "encoding": {"x": {"datum": -0.0289, "type": "quantitative", "axis": null}, "y": {"datum": 1.353, "type": "quantitative", "axis": null}}},
        {"mark": {"type": "text", "text": "H₂O₂", "align": "left", "baseline": "alphabetic", "fontSize": 32},
         "encoding": {"x": {"datum": 0.0444, "type": "quantitative", "axis": null}, "y": {"datum": 1.082, "type": "quantitative", "axis": null}}},
        {"mark": {"type": "text", "text": "Lutein", "align": "left", "baseline": "alphabetic", "fontSize": 32},
         "encoding": {"x": {"datum": 0.0437, "type": "quantitative", "axis": null}, "y": {"datum": 0.66, "type": "quantitative", "axis": null}}},
        {"mark": {"type": "text", "text": "(μM)", "align": "left", "baseline": "alphabetic", "fontSize": 32},
         "encoding": {"x": {"datum": 0.0519, "type": "quantitative", "axis": null}, "y": {"datum": 0.186, "type": "quantitative", "axis": null}}}
      ]
    },
    {
      "width": 1342, "height": 158,
      "data": {"name": "panelB"},
      "resolve": {"scale": {"xOffset": "independent", "stroke": "independent"}},
      "layer": [
        {
          "transform": [{"filter": "isValid(datum.n)"}],
          "mark": {"type": "bar", "clip": true, "opacity": 1, "strokeWidth": 0.8},
          "encoding": {
            "x": {"field": "cond", "type": "nominal", "scale": {"domain": ["-|0", "+|0", "+|5", "+|10"], "paddingInner": 0.11483, "paddingOuter": 0.19777}, "axis": null},
            "xOffset": {"field": "ch", "type": "ordinal", "scale": {"domain": [0,1,2,3,4,5,6,7,8,9,10,11,12,13,14,15,16,17,18,19,20,21,22,23,24,25,26,27,28,29,30,31,32,33,34,35,36,37,38,39,40,41,42,43,44,45,46,47,48,49,50,51,52,53,54,55,56,57,58,59,60,61,62,63,64,65,66,67,68,69,70,71,72,73,74,75,76,77,78,79,80,81,82,83,84,85,86,87,88,89,90,91,92,93,94,95,96,97,98,99,100], "paddingInner": 0, "paddingOuter": 0}},
            "y": {"field": "n", "type": "quantitative", "scale": {"domain": [0, 100]}, "stack": null,
              "axis": {"title": "Count", "offset": -16, "domain": true, "domainColor": "#000", "domainWidth": 4, "domainCap": "square", "ticks": false, "labels": false, "grid": false, "titleFontSize": 32, "titleFontWeight": "normal", "titleColor": "#111", "titleX": -27.5, "titleY": 55, "titleBaseline": "alphabetic", "titleAlign": "center"}},
            "color": {"field": "phase", "type": "nominal", "scale": {"domain": ["G1", "S", "G2/M"], "range": ["#4673c8", "#a53c64", "#7d8732"]}, "legend": null},
            "stroke": {"field": "phase", "type": "nominal", "scale": {"domain": ["G1", "S", "G2/M"], "range": ["#4673c8", "#a53c64", "#7d8732"]}, "legend": null}
          }
        },
        {
          "transform": [{"filter": "isValid(datum.level)"}],
          "mark": {"type": "line", "strokeWidth": 3},
          "encoding": {
            "x": {"field": "cond", "type": "nominal"},
            "xOffset": {"field": "ch", "type": "quantitative", "scale": {"domain": [0, 100], "nice": false, "zero": false}},
            "y": {"field": "level", "type": "quantitative"},
            "detail": {"field": "cond"},
            "stroke": {"field": "phase", "type": "nominal", "scale": {"domain": ["G1", "S", "G2/M"], "range": ["#7896dc", "#b94678", "#96a550"]}, "legend": null}
          }
        },
        {
          "transform": [{"filter": "isValid(datum.level)"}],
          "mark": {"type": "tick", "orient": "vertical", "size": 32, "thickness": 3, "opacity": 1},
          "encoding": {
            "x": {"field": "cond", "type": "nominal"},
            "xOffset": {"field": "ch", "type": "quantitative", "scale": {"domain": [0, 100], "nice": false, "zero": false}},
            "y": {"field": "level", "type": "quantitative"},
            "fill": {"field": "phase", "type": "nominal", "scale": {"domain": ["G1", "S", "G2/M"], "range": ["#7896dc", "#b94678", "#96a550"]}, "legend": null}
          }
        },
        {
          "transform": [{"filter": "isValid(datum.g2m)"}],
          "mark": {"type": "bar", "filled": false, "stroke": "#000", "strokeWidth": 4.5, "opacity": 1},
          "encoding": {"x": {"field": "cond", "type": "nominal"}, "y": {"datum": 0, "type": "quantitative"}, "y2": {"datum": 100}}
        },
        {
          "transform": [{"filter": "isValid(datum.g2m)"}],
          "mark": {"type": "text", "text": "G₂/M:", "align": "right", "baseline": "alphabetic", "fontSize": 32},
          "encoding": {"x": {"field": "cond", "type": "nominal", "bandPosition": 0.955}, "y": {"datum": 79, "type": "quantitative"}}
        },
        {
          "transform": [{"filter": "isValid(datum.g2m)"}],
          "mark": {"type": "text", "align": "right", "baseline": "alphabetic", "fontSize": 32},
          "encoding": {"x": {"field": "cond", "type": "nominal", "bandPosition": 0.955}, "y": {"datum": 54, "type": "quantitative"}, "text": {"field": "g2m"}}
        },
        {
          "transform": [{"filter": "isValid(datum.g2m)"}],
          "mark": {"type": "text", "align": "center", "baseline": "alphabetic", "fontSize": 32},
          "encoding": {"x": {"field": "cond", "type": "nominal"}, "y": {"datum": 181.6, "type": "quantitative"}, "text": {"field": "h2o2"}}
        },
        {
          "transform": [{"filter": "isValid(datum.g2m)"}],
          "mark": {"type": "text", "align": "center", "baseline": "alphabetic", "fontSize": 32},
          "encoding": {"x": {"field": "cond", "type": "nominal"}, "y": {"datum": 150.8, "type": "quantitative"}, "text": {"field": "lutein"}}
        }
      ]
    },
    {
      "width": 1350, "height": 33,
      "data": {"values": [{}]},
      "layer": [
        {"mark": {"type": "rule", "color": "#000", "strokeWidth": 4, "strokeCap": "square"},
         "encoding": {
           "x": {"datum": 0.011852, "type": "quantitative", "scale": {"domain": [0, 1]},
             "axis": {"title": "DNA content index", "domain": false, "ticks": false, "labels": false, "grid": false, "titleFontSize": 32, "titleFontWeight": "normal", "titleColor": "#111", "titleX": 664, "titleY": 48, "titleBaseline": "alphabetic", "titleAlign": "center"}},
           "y": {"datum": 0, "type": "quantitative", "scale": {"domain": [0, 1]}, "axis": null},
           "y2": {"datum": 1}}},
        {"mark": {"type": "rule", "color": "#000", "strokeWidth": 4, "strokeCap": "square"},
         "encoding": {"x": {"datum": 0.011852, "type": "quantitative"}, "x2": {"datum": 1}, "y": {"datum": 0, "type": "quantitative", "axis": null}}},
        {"mark": {"type": "point", "shape": "M-1,-0.45L0,0L-1,0.45", "size": 3136, "filled": false, "stroke": "#000", "strokeWidth": 4, "opacity": 1, "strokeJoin": "round"},
         "encoding": {"x": {"datum": 1, "type": "quantitative"}, "y": {"datum": 0, "type": "quantitative", "axis": null}}}
      ]
    }
  ]
}
